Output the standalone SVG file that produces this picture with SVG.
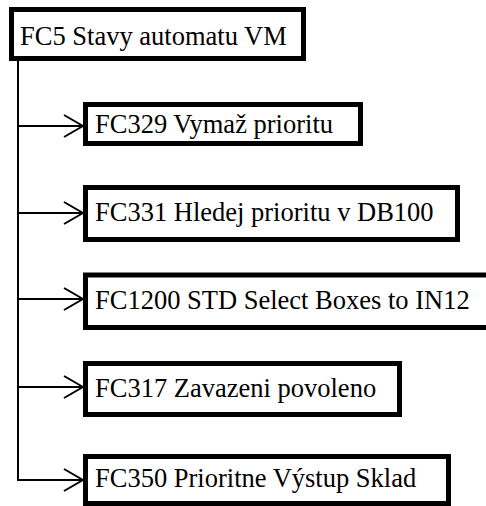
<svg xmlns="http://www.w3.org/2000/svg" width="486" height="506" viewBox="0 0 486 506">
  <style>
    .box { fill: #ffffff; stroke: #000000; stroke-width: 5; }
    .label { font-family: "Liberation Serif", "Times New Roman", serif; font-size: 26.5px; fill: #000000; }
    .wire { fill: none; stroke: #000000; stroke-width: 2; }
  </style>
  <defs>
    <marker id="openArrow" viewBox="0 0 21 24" refX="20" refY="12" markerWidth="21" markerHeight="24" markerUnits="userSpaceOnUse" orient="auto">
      <path d="M1,1 L20,12 L1,23" fill="none" stroke="#000000" stroke-width="2"/>
    </marker>
  </defs>
  <rect width="486" height="506" fill="#ffffff"/>

  <!-- connectors: trunk from the root block and one branch to each called block -->
  <g id="connectors">
    <path class="wire" d="M18,61 L18,480"/>
    <path class="wire" d="M18,126 L83,126" marker-end="url(#openArrow)"/>
    <path class="wire" d="M18,213 L83,213" marker-end="url(#openArrow)"/>
    <path class="wire" d="M18,299 L83,299" marker-end="url(#openArrow)"/>
    <path class="wire" d="M18,387 L83,387" marker-end="url(#openArrow)"/>
    <path class="wire" d="M17,480 L83,480" marker-end="url(#openArrow)"/>
  </g>

  <g id="fc5">
    <rect class="box" x="11.5" y="9.5" width="292" height="49"/>
    <text class="label" x="20" y="45">FC5 Stavy automatu VM</text>
  </g>

  <g id="fc329">
    <rect class="box" x="85.5" y="104.5" width="275" height="39"/>
    <text class="label" x="95" y="133">FC329 Vymaž prioritu</text>
  </g>

  <g id="fc331">
    <rect class="box" x="85.5" y="187.5" width="372" height="52"/>
    <text class="label" x="95" y="221">FC331 Hledej prioritu v DB100</text>
  </g>

  <g id="fc1200">
    <rect class="box" x="85.5" y="275" width="410" height="52.5"/>
    <text class="label" x="95" y="309">FC1200 STD Select Boxes to IN12</text>
  </g>

  <g id="fc317">
    <rect class="box" x="85.5" y="363.5" width="314" height="51"/>
    <text class="label" x="95" y="397">FC317 Zavazeni povoleno</text>
  </g>

  <g id="fc350">
    <rect class="box" x="85.5" y="456.5" width="363" height="47"/>
    <text class="label" x="95" y="487">FC350 Prioritne Výstup Sklad</text>
  </g>
</svg>
